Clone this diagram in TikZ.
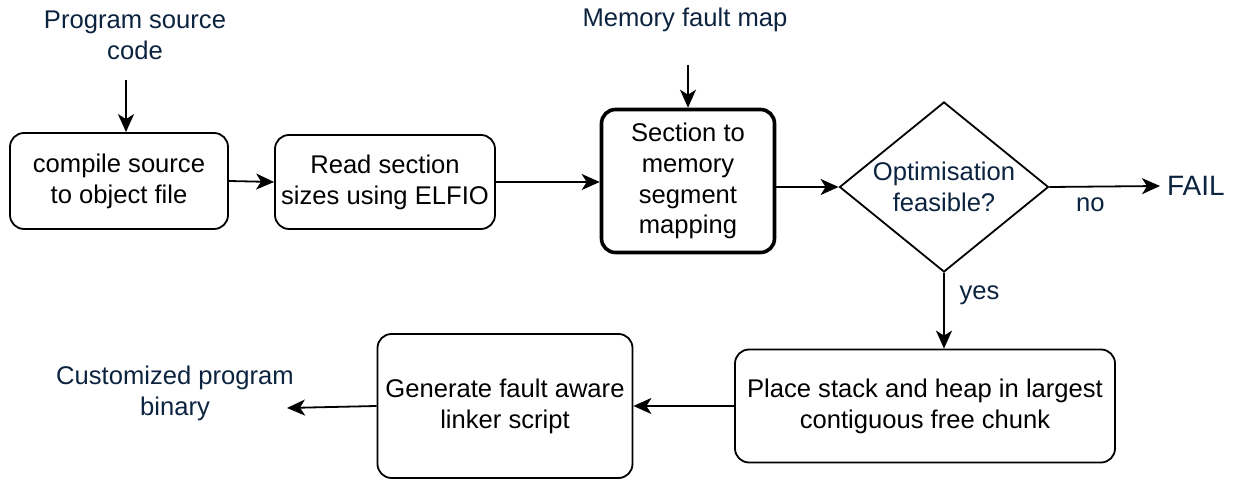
\documentclass[tikz,border=0pt]{standalone}
\usepackage{fontspec}
\setmainfont{Liberation Sans}
\usepackage{xcolor}
\usetikzlibrary{arrows.meta, shapes}

\definecolor{labelnavy}{RGB}{12,35,64}

\tikzset{
    box/.style={draw, rounded corners=7pt, line width=0.9pt, align=center,
        inner sep=2pt, font=\fontsize{12.8}{15.4}\selectfont},
    arr/.style={line width=0.9pt, -{Stealth[length=9pt, width=8pt, inset=2.5pt]}},
    lbl/.style={text=labelnavy, align=center, font=\fontsize{12.8}{15.4}\selectfont},
}

\begin{document}
\begin{tikzpicture}[x=0.5pt, y=-0.5pt]

    \useasboundingbox (0,0) rectangle (1239,480);

    % inputs
    \node[lbl] (srccode) at (135,35) {Program source\\code};
    \node[lbl] (faultmap) at (685,20) {Memory fault map};
    \coordinate (srcin) at (126,80);
    \coordinate (mapin) at (688,65);

    % top row
    \node[box, minimum width=109pt, minimum height=48pt] (compile) at (119,181) {compile source\\to object file};
    \node[box, minimum width=110pt, minimum height=47pt] (readelf) at (385,182) {Read section\\sizes using ELFIO};
    \node[box, line width=1.8pt, minimum width=86.5pt, minimum height=71.5pt] (section) at (688,181) {Section to\\memory\\segment\\mapping};
    \node[draw, diamond, line width=0.9pt, inner sep=-6pt, shape aspect=1.23,
        minimum width=104.5pt, minimum height=85pt, lbl] (feasible) at (944,187) {Optimisation\\feasible?};
    \node[lbl, font=\fontsize{14}{17}\selectfont, anchor=west] (fail) at (1160,186) {FAIL};

    % bottom row
    \node[box, minimum width=190pt, minimum height=56.5pt] (place) at (925,406) {Place stack and heap in largest\\contiguous free chunk};
    \node[box, minimum width=127.5pt, minimum height=72pt] (linker) at (505,406) {Generate fault aware\\linker script};
    \node[lbl] (binary) at (175,393) {Customized program\\binary};
    \coordinate (binout) at (287,408);

    % connectors
    \draw[arr] (srcin) -- (srcin |- compile.north);
    \draw[arr] (mapin) -- (section.north);
    \draw[arr] (compile.east) -- (readelf.west);
    \draw[arr] (readelf.east) -- (readelf.east -| section.west);
    \draw[arr] (section.east |- feasible.west) -- (feasible.west);
    \draw[arr] (feasible.east) -- (fail.west) node[lbl, below=2pt, pos=0.37] {no};
    \draw[arr] (feasible.south) -- (feasible.south |- place.north) node[lbl, right=4pt, pos=0.3] {yes};
    \draw[arr] (place.west) -- (linker.east);
    \draw[arr] (linker.west) -- (binout);

\end{tikzpicture}
\end{document}
